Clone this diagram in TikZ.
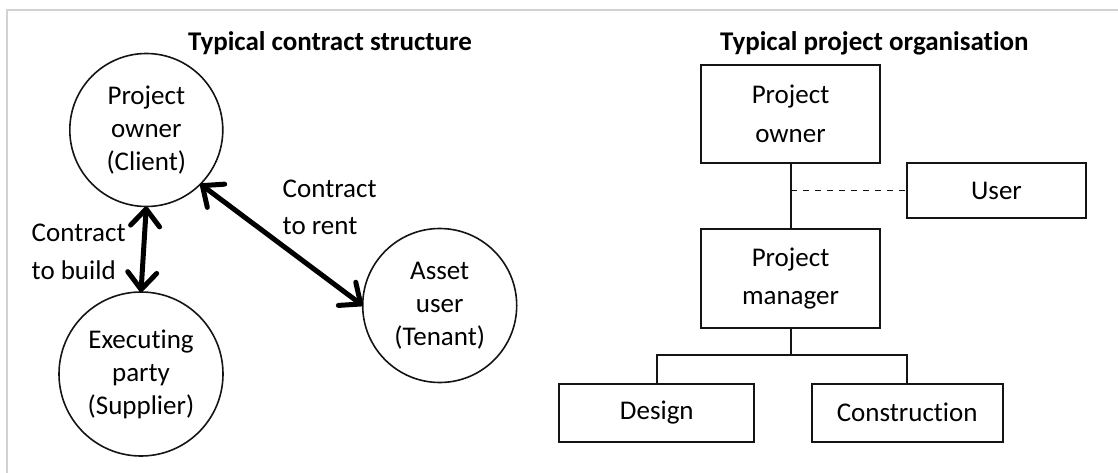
\documentclass[tikz,border=0pt]{standalone}
\usepackage{fontspec}
\setmainfont{Carlito}[RawFeature=-liga]
\usetikzlibrary{arrows.meta,calc}
\definecolor{framegray}{RGB}{210,210,210}
\definecolor{ink}{RGB}{20,20,20}
\begin{document}
\begin{tikzpicture}[x=1pt,y=-1pt,
  every node/.style={inner sep=0pt, outer sep=0pt, text=black},
  heading/.style={font=\fontsize{27}{32}\selectfont\bfseries},
  party/.style={draw=ink, line width=1.6pt, circle, font=\fontsize{27}{33}\selectfont, align=center},
  orgbox/.style={draw=ink, line width=2.1pt, rectangle, font=\fontsize{27}{38.5}\selectfont, align=center},
  note/.style={font=\fontsize{27}{37.6}\selectfont, align=left},
  contract/.style={line width=5pt, black,
    {Straight Barb[length=17pt,width=29pt,round]}-{Straight Barb[length=17pt,width=29pt,round]}},
  link/.style={line width=2pt, draw=ink},
]
\useasboundingbox (0,0) rectangle (1118,473);
% page frame
\draw[line width=2pt, framegray] (6.7,473) -- (6.7,10) -- (1118,10);

% headings
\node[heading, anchor=base] (t1) at (330,51) {Typical contract structure};
\node[heading, anchor=base west] (t2) at (720,51) {Typical project organisation};

% contract structure
\node[party, minimum size=153pt] (po) at (146.3,130) {Project\\owner\\(Client)};
\node[party, minimum size=164pt] (ep) at (141,374) {Executing\\party\\(Supplier)};
\node[party, minimum size=154pt] (au) at (439.7,305.5) {Asset\\user\\(Tenant)};
\node[note, anchor=west] (lb) at (31.7,251.6) {Contract\\to build};
\node[note, anchor=west] (lr) at (282.7,207.3) {Contract\\to rent};
\draw[contract] (po.south) -- (ep.north);
\draw[contract] (po.south east) -- (au.west);

% project organisation
\node[orgbox, minimum width=179pt, minimum height=98pt] (pob) at (790.5,114) {Project\\owner};
\node[orgbox, minimum width=178.4pt, minimum height=55pt] (user) at (996.5,190.8) {User};
\node[orgbox, minimum width=179pt, minimum height=98.4pt] (pmb) at (790.5,278.5) {Project\\manager};
\node[orgbox, minimum width=195pt, minimum height=57.7pt] (des) at (656.8,412.8) {Design};
\node[orgbox, minimum width=191pt, minimum height=57.7pt] (con) at (907.2,412.8) {Construction};
\coordinate (fork) at (790.5,354.7);
\draw[link] (pob.south) -- (pmb.north);
\draw[link, line width=1.4pt, dash pattern=on 6.5pt off 5.5pt] (pob.south |- user.west) -- (user.west);
\draw[link] (pmb.south) -- (fork);
\draw[link] (des.north) |- (fork) -| (con.north);
\end{tikzpicture}
\end{document}
